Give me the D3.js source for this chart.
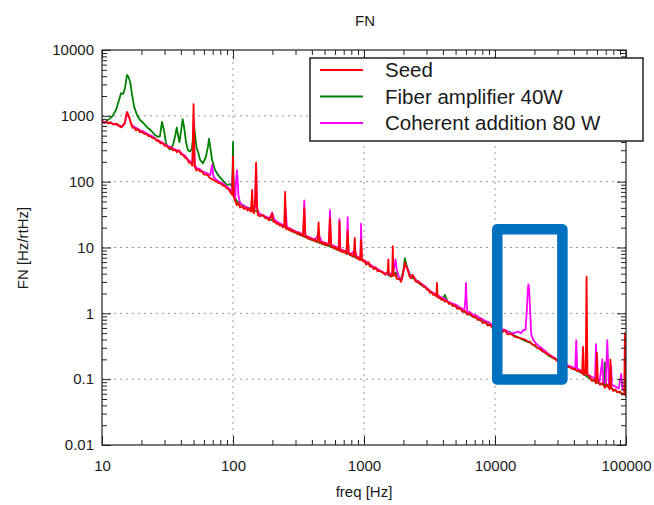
<!DOCTYPE html>
<html>
<head>
<meta charset="utf-8">
<script src="https://cdn.jsdelivr.net/npm/d3@7"></script>
<style>
  body { margin: 0; background: #fff; }
  svg { display: block; }
  text { font-family: "Liberation Sans", Arial, sans-serif; fill: #1a1a1a; }
</style>
</head>
<body>
<svg id="chart" width="654" height="505"></svg>
<script>
// Axis ticks
const xTickValues = [10, 100, 1000, 10000, 100000];
const xTickLabels = ["10", "100", "1000", "10000", "100000"];
const yTickValues = [0.01, 0.1, 1, 10, 100, 1000, 10000];
const yTickLabels = ["0.01", "0.1", "1", "10", "100", "1000", "10000"];

// Legend
const seriesNames = ["Seed", "Fiber amplifier 40W", "Coherent addition 80 W"];
const seriesColors = ["#ff0000", "#008000", "#ff00ff"];

// Frequency noise spectra: [freq Hz, FN Hz/rtHz]
const seed = [
  [10,820],[10.4,780],[10.8,815],[11.2,765],[11.6,800],[12.1,742],[12.6,745],[13.1,752],[13.6,690],[14.1,668],
  [14.5,725],[14.9,775],[15.2,950],[15.5,1150],[15.8,1060],[16.2,925],[16.6,775],[17.1,655],[17.6,665],[18.2,598],
  [18.8,632],[19.5,565],[20.2,572],[21,532],[21.8,530],[22.6,492],[23.4,492],[24.3,458],[25.2,458],[26.1,418],
  [27,422],[28,380],[29,388],[30,350],[31.2,352],[32.4,320],[33.6,330],[34.8,298],[36,308],[37.3,280],
  [38.6,298],[40,262],[41.5,256],[43,232],[44.5,222],[46,195],[47.5,195],[49,174],[50,1500],[51,170],
  [52.5,148],[54,155],[56,143],[58,144],[60,128],[62,129],[64,126],[66,116],[68,111],[70,108],
  [72.5,103],[75,100],[78,95],[81,93],[84,87],[87,85],[90,79],[93,76],[96,68],[98.8,63],
  [100,240],[101.2,58],[104,51],[107,44],[110,47],[113,40.5],[117,43],[121,38.5],[125,40.5],[129,36.5],
  [133,38.5],[137,35],[140,75],[142,35.5],[145,33],[148,58],[150,195],[152,48],[155,31],[160,30],
  [165,30.5],[170,31],[176,28],[182,28.3],[188,25.8],[194,27.8],[199,33],[204,24.6],[210,24.6],[216,22.8],
  [222,23.4],[228,21.4],[234,22],[240,20.2],[246,20.8],[250,70],[254,19.1],[260,19.9],[267,18.2],[274,19.3],
  [281,17.5],[288,18.2],[295,17],[302,17.4],[310,16],[318,16.9],[326,15.5],[334,16],[342,14.8],[350,40],
  [358,14.2],[366,14.8],[375,13.6],[384,14.1],[393,13.1],[402,13.6],[412,12.7],[422,13.2],[432,12.2],[442,12.8],
  [450,24],[458,11.8],[468,12.2],[479,11.4],[490,11.9],[502,10.9],[514,11.6],[526,10.7],[538,11.1],[550,28],
  [562,10.2],[575,10.5],[588,9.7],[602,10.2],[616,9.3],[630,9.8],[644,9.0],[650,25],[656,9.2],[670,8.6],
  [685,9.0],[700,8.4],[716,8.8],[732,8.0],[750,18],[765,8.2],[782,7.6],[800,8.0],[818,7.3],[836,7.6],
  [850,14],[864,7.0],[880,7.2],[898,6.7],[916,7.0],[935,6.4],[950,13],[966,6.6],[985,6.1],[1000,6.4],
  [1040,5.5],[1080,6.0],[1111,5.1],[1150,5.2],[1190,4.65],[1230,5.0],[1270,4.35],[1310,4.45],[1350,4.3],[1400,4.15],
  [1445,3.85],[1490,4.1],[1520,4.4],[1535,6.6],[1550,4.0],[1600,3.65],[1640,3.9],[1660,10.5],[1680,3.7],[1725,4.0],
  [1770,3.4],[1818,3.3],[1870,3.3],[1916,3.0],[1960,3.6],[2010,4.7],[2060,5.9],[2100,5.1],[2168,4.4],[2230,3.6],
  [2285,3.4],[2350,3.85],[2409,3.55],[2470,3.05],[2539,3.0],[2600,3.1],[2675,2.8],[2750,2.8],[2830,2.55],[2922,2.55],
  [3010,2.3],[3100,2.3],[3190,2.05],[3280,2.12],[3380,1.9],[3483,1.97],[3570,1.8],[3605,2.9],[3640,1.85],[3720,1.7],
  [3803,1.74],[3900,1.6],[4000,1.66],[4152,1.5],[4300,1.55],[4450,1.39],[4600,1.43],[4750,1.29],[4950,1.33],[5150,1.17],
  [5400,1.2],[5650,1.05],[5900,1.09],[6150,0.95],[6450,1.0],[6750,0.88],[7050,0.9],[7400,0.79],[7700,0.82],[8050,0.71],
  [8400,0.74],[8800,0.65],[9150,0.68],[9550,0.6],[10000,0.62],[10450,0.56],[10900,0.59],[11400,0.52],[11900,0.555],[12450,0.48],
  [13000,0.485],[13600,0.47],[14200,0.44],[14850,0.43],[15500,0.42],[16200,0.41],[16950,0.4],[17700,0.375],[18500,0.37],[19300,0.335],
  [20200,0.33],[21100,0.295],[22000,0.293],[23000,0.265],[24100,0.258],[25200,0.237],[26300,0.23],[27500,0.21],[28700,0.207],[30000,0.186],
  [31300,0.184],[32700,0.168],[34200,0.169],[35800,0.154],[37400,0.154],[39000,0.142],[40800,0.143],[42600,0.133],[44500,0.133],[46200,0.122],
  [47000,0.31],[47800,0.116],[49200,0.124],[50000,3.6],[50800,0.113],[52500,0.112],[54800,0.094],[57000,0.1],[59000,0.086],[60000,0.25],
  [61000,0.094],[63300,0.082],[66000,0.088],[69000,0.074],[72000,0.083],[75000,0.07],[76000,0.2],[77000,0.076],[80000,0.066],[83000,0.07],
  [86000,0.063],[90000,0.065],[94000,0.058],[97000,0.06],[98000,0.5],[99000,0.056],[100000,0.062]
];

const fiber = [
  [10,830],[10.5,800],[11.1,868],[11.9,965],[12.8,1230],[13.5,1740],[13.96,2200],[14.5,2150],[14.98,2620],[15.5,4170],
  [15.9,3930],[16.4,3300],[16.9,2200],[17.6,1370],[18.5,1030],[19.5,865],[20.4,800],[21.3,730],[22.4,650],[23.2,625],
  [24.1,575],[25.4,510],[26.8,478],[27.7,492],[28.7,810],[29.7,610],[30.8,380],[32,335],[33,308],[34.8,360],
  [36,470],[37.2,660],[38,520],[39,400],[40.1,580],[41.3,890],[42.3,680],[43.8,400],[45.3,300],[47,288],
  [48.6,320],[49.6,480],[50.4,730],[51.5,480],[52.7,330],[54.1,285],[56,215],[59,190],[62.2,240],[64.4,340],
  [65.6,445],[67.3,320],[69.2,215],[72.9,150],[76.8,127],[80.9,112],[85.3,100],[90,89],[94.9,92],[98.3,84],
  [99.4,150],[100,400],[100.6,130],[102,62],[106,52],[110,48],[115,45],[120,44],[126,41],[132,40],
  [140,37],[150,36],[160,32],[172,30],[185,27],[200,26],[215,23.5],[232,22],[250,20.5],[270,18.5],
  [290,17.2],[315,16],[340,15],[370,14],[400,13],[430,12.4],[470,11.5],[510,10.9],[550,10.4],[600,9.6],
  [650,9],[700,8.5],[760,8],[820,7.4],[890,6.9],[960,6.5],[1040,5.9],[1120,5.3],[1200,4.9],[1300,4.5],
  [1400,4.1],[1500,3.9],[1620,3.6],[1740,4.2],[1800,3.8],[1900,3.2],[1990,4.2],[2050,6.9],[2110,5.4],[2200,4.2],
  [2320,3.5],[2450,3.3],[2600,2.9],[2800,2.6],[3000,2.4],[3200,2.1],[3450,1.95],[3700,1.75],[3950,1.6],[4150,1.9],
  [4350,1.5],[4700,1.36],[5100,1.27],[5500,1.15],[6000,1.02],[6500,0.94],[7100,0.86],[7800,0.78],[8500,0.72],[9300,0.65],
  [10000,0.6],[11000,0.56],[12000,0.54],[13000,0.52],[14000,0.46],[15500,0.42],[17000,0.38],[18500,0.36],[20500,0.31],[23000,0.27],
  [26000,0.225],[29000,0.2],[32000,0.175],[36000,0.155],[40000,0.142],[44000,0.13],[48000,0.118],[52000,0.105],[57000,0.094],[62000,0.087],
  [68000,0.082],[69000,0.18],[70000,0.08],[76000,0.074],[84000,0.066],[92000,0.061],[100000,0.058]
];

const coherent = [
  [10,840],[10.6,800],[11.3,790],[12,770],[12.8,740],[13.6,710],[14.3,690],[14.9,760],[15.5,1080],[16.1,950],
  [16.8,740],[17.6,680],[18.6,640],[19.6,600],[20.7,580],[21.8,545],[23,510],[24.3,490],[25.6,450],[27,420],
  [28.5,400],[30,370],[31.6,350],[33.3,335],[35,320],[37,300],[39,295],[41,262],[43,250],[45,220],
  [47,205],[49,190],[50,900],[51,180],[53,160],[55.5,156],[58,145],[61,138],[64,133],[67,125],
  [69.2,180],[71,118],[74,108],[78,100],[82,96],[86,90],[90,84],[94,78],[98,70],[100,150],
  [101,62],[104,56],[105.5,100],[107,150],[108.5,110],[110,62],[113,48],[118,44],[124,42],[130,40],
  [136,38],[142,37],[147,40],[150,180],[153,38],[160,32],[170,31],[180,29],[190,28],[199,34],
  [206,27],[215,25],[225,23.5],[236,22.5],[248,21],[252,40],[258,20.5],[270,19.8],[285,18.5],[300,17.5],
  [318,17],[335,16],[345,15.8],[350,52],[355,15.5],[375,14.6],[400,13.8],[425,13.3],[450,16],[475,12.3],
  [505,11.8],[540,11.3],[550,37],[560,11.1],[600,10.4],[640,9.8],[650,27],[660,9.5],[700,9],[740,8.6],
  [750,29],[760,8.4],[800,8],[850,9],[880,7.4],[920,7],[940,6.9],[950,23],[960,6.8],[1000,6.4],
  [1080,5.8],[1160,5.2],[1250,4.8],[1350,4.4],[1450,4.0],[1550,3.9],[1650,4.1],[1700,4.8],[1740,6.6],[1780,4.6],
  [1850,3.5],[1950,3.3],[2050,5.6],[2150,4.8],[2250,3.7],[2400,3.6],[2550,3.0],[2700,2.9],[2900,2.6],[3100,2.3],
  [3300,2.1],[3550,1.95],[3800,1.8],[4100,1.68],[4400,1.5],[4700,1.42],[5000,1.36],[5300,1.26],[5600,1.18],[5850,1.16],
  [5950,1.7],[6000,2.9],[6060,1.7],[6150,1.04],[6400,1.05],[6800,0.95],[7200,0.93],[7600,0.86],[8000,0.82],[8500,0.76],
  [9000,0.73],[9500,0.66],[10000,0.64],[11000,0.58],[12000,0.56],[13000,0.5],[14000,0.5],[15000,0.53],[15800,0.5],[16500,0.56],
  [17100,0.56],[17500,1.1],[17800,2.3],[18000,2.76],[18200,2.4],[18500,1.2],[18900,0.48],[19500,0.4],[20500,0.35],[22000,0.31],
  [24000,0.27],[26000,0.235],[28000,0.215],[30000,0.195],[33000,0.175],[36000,0.162],[39000,0.152],[41000,0.146],[41700,0.39],[42400,0.145],
  [45000,0.136],[48000,0.127],[52000,0.116],[55000,0.108],[58000,0.102],[59000,0.34],[60000,0.1],[63000,0.094],[66000,0.2],[67000,0.09],
  [70000,0.088],[72000,0.39],[74000,0.084],[77000,0.16],[78000,0.082],[83000,0.077],[88000,0.072],[92000,0.12],[94000,0.07],[100000,0.068]
];

// Highlighted band around the 18 kHz feature
const highlightFreq = [10400, 32700];
const highlightFN = [0.099, 19];

const svg = d3.select("#chart");
const plot = { left: 102, right: 626, top: 50, bottom: 445 };

const x = d3.scaleLog().domain([10, 100000]).range([plot.left, plot.right]);
const y = d3.scaleLog().domain([0.01, 10000]).range([plot.bottom, plot.top]);

svg.append("rect").attr("width", 654).attr("height", 505).attr("fill", "#fff");

// minor tick positions 2..9 within each decade
const minorX = [], minorY = [];
for (let e = 1; e < 5; e++) for (let k = 2; k <= 9; k++) minorX.push(k * Math.pow(10, e));
for (let e = -2; e < 4; e++) for (let k = 2; k <= 9; k++) minorY.push(+(k * Math.pow(10, e)).toPrecision(3));

// dotted grid at inner decades
const grid = svg.append("g").attr("stroke", "#9a9a9a").attr("stroke-width", 1)
  .attr("stroke-dasharray", "2,4");
grid.selectAll("line.gx").data(xTickValues.slice(1, -1)).join("line")
  .attr("x1", d => x(d)).attr("x2", d => x(d)).attr("y1", plot.top).attr("y2", plot.bottom);
grid.selectAll("line.gy").data(yTickValues.slice(1, -1)).join("line")
  .attr("y1", d => y(d)).attr("y2", d => y(d)).attr("x1", plot.left).attr("x2", plot.right);

// curves
svg.append("clipPath").attr("id", "clip").append("rect")
  .attr("x", plot.left).attr("y", plot.top)
  .attr("width", plot.right - plot.left).attr("height", plot.bottom - plot.top);

const line = d3.line().x(d => x(d[0])).y(d => y(d[1]));
const curves = svg.append("g").attr("clip-path", "url(#clip)").attr("fill", "none")
  .attr("stroke-width", 1.8).attr("stroke-linejoin", "round");
curves.append("path").datum(fiber).attr("stroke", seriesColors[1]).attr("d", line);
curves.append("path").datum(coherent).attr("stroke", seriesColors[2]).attr("d", line);
curves.append("path").datum(seed).attr("stroke", seriesColors[0]).attr("d", line);

// axes: inward ticks on all four sides
function styleAxis(g) {
  g.select(".domain").remove();
  g.selectAll(".tick line").attr("stroke", "#222");
  g.selectAll(".tick text").attr("font-size", 15).attr("fill", "#1a1a1a")
    .attr("font-family", "'Liberation Sans', Arial, sans-serif");
}
const majorLen = 9, minorLen = 5;

svg.append("g").attr("transform", `translate(0,${plot.bottom})`)
  .call(d3.axisBottom(x).tickValues(xTickValues).tickSize(-majorLen).tickPadding(15)
    .tickFormat((d, i) => xTickLabels[i]))
  .call(styleAxis);
svg.append("g").attr("transform", `translate(0,${plot.bottom})`)
  .call(d3.axisBottom(x).tickValues(minorX).tickSize(-minorLen).tickFormat(""))
  .call(styleAxis);
svg.append("g").attr("transform", `translate(0,${plot.top})`)
  .call(d3.axisTop(x).tickValues(xTickValues).tickSize(-majorLen).tickFormat(""))
  .call(styleAxis);
svg.append("g").attr("transform", `translate(0,${plot.top})`)
  .call(d3.axisTop(x).tickValues(minorX).tickSize(-minorLen).tickFormat(""))
  .call(styleAxis);

svg.append("g").attr("transform", `translate(${plot.left},0)`)
  .call(d3.axisLeft(y).tickValues(yTickValues).tickSize(-majorLen).tickPadding(8)
    .tickFormat((d, i) => yTickLabels[i]))
  .call(styleAxis);
svg.append("g").attr("transform", `translate(${plot.left},0)`)
  .call(d3.axisLeft(y).tickValues(minorY).tickSize(-minorLen).tickFormat(""))
  .call(styleAxis);
svg.append("g").attr("transform", `translate(${plot.right},0)`)
  .call(d3.axisRight(y).tickValues(yTickValues).tickSize(-majorLen).tickFormat(""))
  .call(styleAxis);
svg.append("g").attr("transform", `translate(${plot.right},0)`)
  .call(d3.axisRight(y).tickValues(minorY).tickSize(-minorLen).tickFormat(""))
  .call(styleAxis);

// frame
svg.append("rect").attr("x", plot.left).attr("y", plot.top)
  .attr("width", plot.right - plot.left).attr("height", plot.bottom - plot.top)
  .attr("fill", "none").attr("stroke", "#222").attr("stroke-width", 1.2);

// titles
svg.append("text").attr("x", 365).attr("y", 26).attr("text-anchor", "middle")
  .attr("font-size", 15).text("FN");
svg.append("text").attr("x", 364).attr("y", 497).attr("text-anchor", "middle")
  .attr("font-size", 15).text("freq [Hz]");
svg.append("text").attr("transform", "translate(28,248) rotate(-90)")
  .attr("text-anchor", "middle").attr("font-size", 15).text("FN [Hz/rtHz]");

// legend
const legend = svg.append("g");
legend.append("rect").attr("x", 310).attr("y", 58).attr("width", 333).attr("height", 83)
  .attr("fill", "#fff").attr("stroke", "#222").attr("stroke-width", 1.5);
seriesNames.forEach((name, i) => {
  const ly = 70 + i * 26.5;
  legend.append("line").attr("x1", 320).attr("x2", 363).attr("y1", ly).attr("y2", ly)
    .attr("stroke", seriesColors[i]).attr("stroke-width", 1.8);
  legend.append("text").attr("x", 385).attr("y", ly + 7)
    .attr("font-family", "'DejaVu Sans', sans-serif").attr("font-size", 20.5)
    .text(name);
});

// highlight box
svg.append("rect")
  .attr("x", x(highlightFreq[0])).attr("y", y(highlightFN[1]))
  .attr("width", x(highlightFreq[1]) - x(highlightFreq[0]))
  .attr("height", y(highlightFN[0]) - y(highlightFN[1]))
  .attr("fill", "none").attr("stroke", "#0070c0").attr("stroke-width", 10.5)
  .attr("stroke-linejoin", "round");
</script>
</body>
</html>
